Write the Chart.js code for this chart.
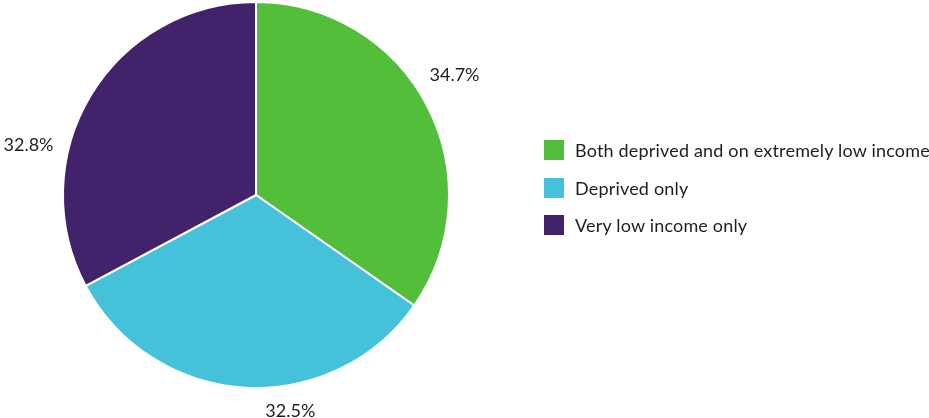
<!DOCTYPE html>
<html>
<head>
<meta charset="utf-8">
<script src="https://cdn.jsdelivr.net/npm/chart.js@4/dist/chart.umd.min.js"></script>
<style>
  html, body { margin: 0; padding: 0; background: #ffffff; }
  #wrap { position: relative; width: 929px; height: 418px; }
  #chart { position: absolute; left: 0; top: 0; }
  #legend { position: absolute; left: 544px; top: 140px; font-family: Lato, "Open Sans", sans-serif; font-size: 18px; letter-spacing: 0.18px; color: #1e1e1e; }
  .item { display: flex; align-items: center; height: 20px; margin-bottom: 17.5px; white-space: nowrap; }
  .box { width: 20px; height: 20px; margin-right: 11px; flex: none; }
</style>
</head>
<body>
<div id="wrap">
  <canvas id="chart" width="929" height="418"></canvas>
  <div id="legend"></div>
</div>
<script>
const categories = ['Both deprived and on extremely low income', 'Deprived only', 'Very low income only'];
const shares = [34.7, 32.5, 32.8];
const sliceColors = ['#53be3a', '#45c1da', '#42226b'];

// angular nudge (degrees) for each outside percentage label
const labelShift = [-5.5, -6, -19];

const outsideLabels = {
  id: 'outsideLabels',
  afterDatasetsDraw(chart) {
    const ctx = chart.ctx;
    const meta = chart.getDatasetMeta(0);
    ctx.save();
    ctx.font = '18px Lato, "Open Sans", sans-serif';
    ctx.fillStyle = '#1e1e1e';
    meta.data.forEach((arc, i) => {
      const mid = (arc.startAngle + arc.endAngle) / 2 + labelShift[i] * Math.PI / 180;
      const r = arc.outerRadius + 14;
      const x = arc.x + Math.cos(mid) * r;
      const y = arc.y + Math.sin(mid) * r;
      ctx.textAlign = Math.cos(mid) >= 0 ? 'left' : 'right';
      ctx.textBaseline = Math.sin(mid) >= 0 ? 'top' : 'bottom';
      ctx.fillText(shares[i].toFixed(1) + '%', x, y + (Math.sin(mid) >= 0 ? 0 : 2));
    });
    ctx.restore();
  }
};

new Chart(document.getElementById('chart'), {
  type: 'pie',
  data: {
    labels: categories,
    datasets: [{
      data: shares,
      backgroundColor: sliceColors,
      borderColor: '#ffffff',
      borderWidth: 2
    }]
  },
  options: {
    responsive: false,
    animation: false,
    layout: { padding: { left: 62, right: 479, top: 1, bottom: 29 } },
    plugins: {
      legend: { display: false },
      tooltip: { enabled: false }
    }
  },
  plugins: [outsideLabels]
});

const legend = document.getElementById('legend');
categories.forEach((name, i) => {
  const row = document.createElement('div');
  row.className = 'item';
  const box = document.createElement('span');
  box.className = 'box';
  box.style.background = sliceColors[i];
  const txt = document.createElement('span');
  txt.textContent = name;
  row.appendChild(box);
  row.appendChild(txt);
  legend.appendChild(row);
});
</script>
</body>
</html>
